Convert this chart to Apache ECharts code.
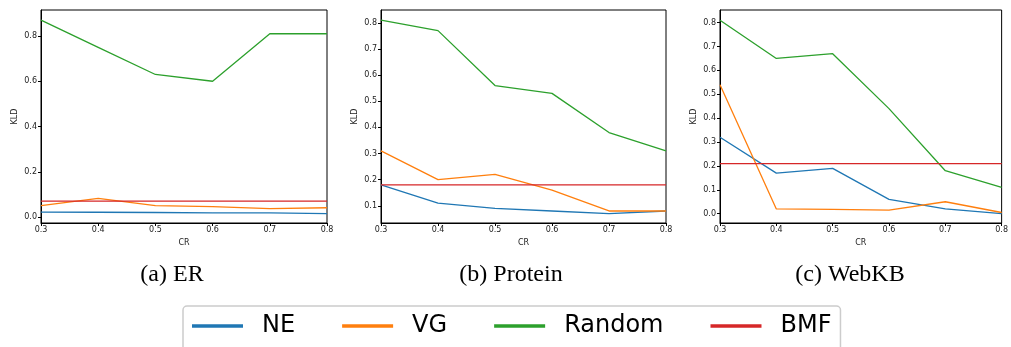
<!DOCTYPE html>
<html>
<head>
<meta charset="utf-8">
<script src="https://cdn.jsdelivr.net/npm/echarts@6/dist/echarts.min.js"></script>
<style>
  html, body { margin: 0; padding: 0; background: #fff; }
  #chart { width: 1011px; height: 347px; }
</style>
</head>
<body>
<div id="chart"></div>
<script>
// compression ratio on the x axis
const cr = [0.3, 0.4, 0.5, 0.6, 0.7, 0.8];
const methods = ['NE', 'VG', 'Random', 'BMF'];

// (a) ER
const erNE = [0.022, 0.021, 0.020, 0.018, 0.018, 0.015];
const erVG = [0.050, 0.082, 0.050, 0.046, 0.037, 0.041];
const erRandom = [0.87, 0.75, 0.63, 0.60, 0.81, 0.81];
const erBMF = [0.07, 0.07, 0.07, 0.07, 0.07, 0.07];

// (b) Protein
const protNE = [0.18, 0.11, 0.09, 0.08, 0.07, 0.08];
const protVG = [0.31, 0.20, 0.22, 0.16, 0.08, 0.08];
const protRandom = [0.81, 0.77, 0.56, 0.53, 0.38, 0.31];
const protBMF = [0.18, 0.18, 0.18, 0.18, 0.18, 0.18];

// (c) WebKB
const webNE = [0.32, 0.17, 0.19, 0.06, 0.02, 0.0];
const webVG = [0.54, 0.02, 0.018, 0.015, 0.05, 0.005];
const webRandom = [0.81, 0.65, 0.67, 0.44, 0.18, 0.11];
const webBMF = [0.21, 0.21, 0.21, 0.21, 0.21, 0.21];

const xTicks = [0.3, 0.4, 0.5, 0.6, 0.7, 0.8];
const yTicksER = [0.0, 0.2, 0.4, 0.6, 0.8];
const yTicksProt = [0.1, 0.2, 0.3, 0.4, 0.5, 0.6, 0.7, 0.8];
const yTicksWeb = [0.0, 0.1, 0.2, 0.3, 0.4, 0.5, 0.6, 0.7, 0.8];

const captions = ['(a) ER', '(b) Protein', '(c) WebKB'];

const colors = { NE: '#1f77b4', VG: '#ff7f0e', Random: '#2ca02c', BMF: '#d62728' };

const panels = [
  { left: 41, width: 286, ymin: -0.0265, ymax: 0.915, ticks: yTicksER, cap: 172,
    data: [erNE, erVG, erRandom, erBMF] },
  { left: 381, width: 285, ymin: 0.034, ymax: 0.849, ticks: yTicksProt, cap: 511,
    data: [protNE, protVG, protRandom, protBMF] },
  { left: 720, width: 285, ymin: -0.039, ymax: 0.853, ticks: yTicksWeb, cap: 850,
    data: [webNE, webVG, webRandom, webBMF] }
];

const tickFont = { fontFamily: 'DejaVu Sans', fontSize: 8, color: '#222' };

const chart = echarts.init(document.getElementById('chart'), null, { renderer: 'canvas' });

const grid = panels.map((p) => ({
  left: p.left, width: p.width, top: 10, height: 213,
  show: true, borderColor: '#000', borderWidth: 1, backgroundColor: 'transparent'
}));

const xAxis = panels.map((p, i) => ({
  type: 'value', gridIndex: i, min: 0.3, max: 0.8,
  name: 'CR', nameLocation: 'middle', nameGap: 15,
  nameTextStyle: tickFont,
  axisLine: { show: true, onZero: false, lineStyle: { color: '#000', width: 1 } },
  axisTick: { show: true, length: 3, customValues: xTicks, lineStyle: { color: '#000' } },
  axisLabel: { customValues: xTicks, margin: 3, formatter: (v) => v.toFixed(1), ...tickFont },
  splitLine: { show: false }
}));

const yAxis = panels.map((p, i) => ({
  type: 'value', gridIndex: i, min: p.ymin, max: p.ymax,
  name: 'KLD', nameLocation: 'middle', nameGap: 22, nameRotate: 90,
  nameTextStyle: tickFont,
  axisLine: { show: true, onZero: false, lineStyle: { color: '#000', width: 1 } },
  axisTick: { show: true, length: 3, customValues: p.ticks, lineStyle: { color: '#000' } },
  axisLabel: { customValues: p.ticks, margin: 4, formatter: (v) => v.toFixed(1), ...tickFont },
  splitLine: { show: false }
}));

const series = [];
panels.forEach((p, i) => {
  methods.forEach((m, k) => {
    series.push({
      name: m, type: 'line', xAxisIndex: i, yAxisIndex: i,
      data: cr.map((c, j) => [c, p.data[k][j]]),
      showSymbol: false, symbol: 'none',
      color: colors[m],
      lineStyle: { width: 1.3, color: colors[m] },
      silent: true
    });
  });
});

chart.setOption({
  animation: false,
  backgroundColor: '#fff',
  grid: grid,
  xAxis: xAxis,
  yAxis: yAxis,
  legend: {
    data: methods,
    left: 183, top: 306,
    orient: 'horizontal',
    icon: 'rect',
    itemWidth: 51, itemHeight: 3.5,
    itemGap: 47,
    padding: [6, 9, 20, 9],
    borderColor: '#ccc', borderWidth: 1.5, borderRadius: 4,
    textStyle: { fontFamily: 'DejaVu Sans', fontSize: 24, color: '#000', lineHeight: 28, padding: [0, 0, 0, 14] }
  },
  graphic: panels.map((p, i) => ({
    type: 'text', x: p.cap, y: 275,
    style: {
      text: captions[i], textAlign: 'center', textVerticalAlign: 'middle',
      font: '24px "Liberation Serif"', fill: '#000'
    }
  })),
  series: series
});
</script>
</body>
</html>
